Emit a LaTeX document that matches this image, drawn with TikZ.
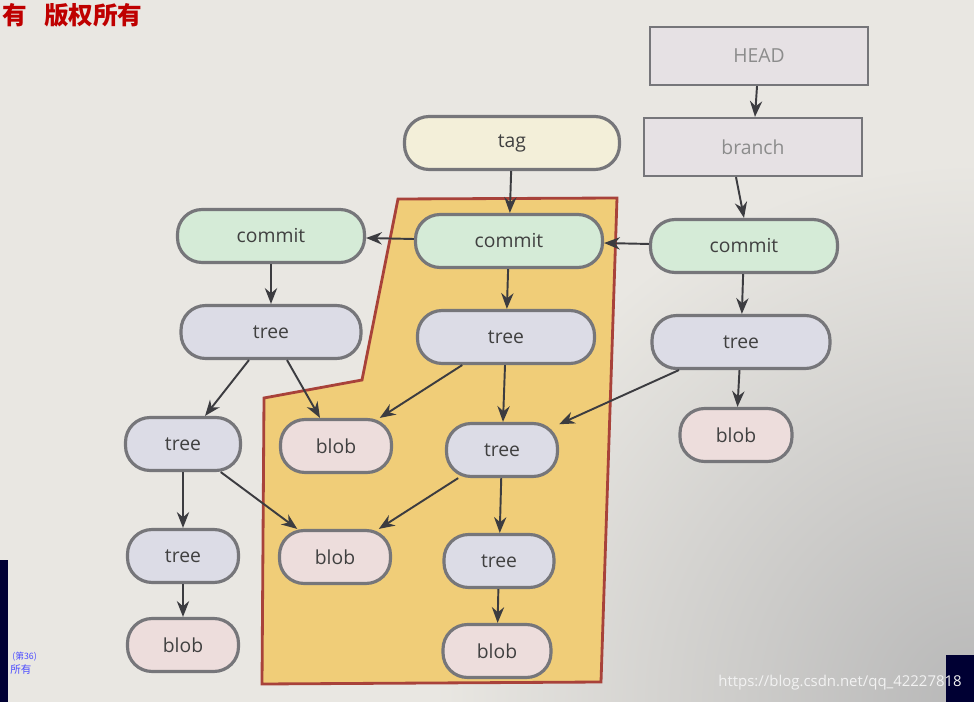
\documentclass[tikz,border=0pt]{standalone}
\usepackage{fontspec}
\setmainfont{Open Sans}
\newfontfamily\cjk{Noto Sans CJK SC}
\usetikzlibrary{arrows.meta}

\definecolor{paper}{HTML}{E9E7E2}
\definecolor{edgegray}{HTML}{76767A}
\definecolor{arrowgray}{HTML}{3C3C40}
\definecolor{refgray}{HTML}{E6E1E4}
\definecolor{tagfill}{HTML}{F3EFD9}
\definecolor{commitfill}{HTML}{D5EBD7}
\definecolor{treefill}{HTML}{DCDCE6}
\definecolor{blobfill}{HTML}{EDDDDC}
\definecolor{areafill}{HTML}{F0CD78}
\definecolor{areaedge}{HTML}{A8423A}

\begin{document}
\begin{tikzpicture}
    %defining some styles
    [
        x=0.02cm, y=-0.02cm,
        every node/.style={font=\fontsize{11}{13}\selectfont, text=black!75},
        refbox/.style={rectangle, draw=edgegray, fill=refgray, line width=1.3pt,
            minimum width=4.36cm, minimum height=1.16cm, text=black!45},
        pill/.style={rectangle, rounded corners=14pt, draw=edgegray, line width=1.8pt,
            minimum height=1.06cm},
        bigpill/.style={pill, minimum width=3.6cm},
        smallpill/.style={pill, minimum width=2.22cm},
        tagnode/.style={bigpill, fill=tagfill, minimum width=4.3cm},
        commitnode/.style={bigpill, fill=commitfill, minimum width=3.74cm},
        treenode/.style={bigpill, fill=treefill},
        smalltree/.style={smallpill, fill=treefill},
        blobnode/.style={smallpill, fill=blobfill},
        link/.style={-{Stealth[length=9pt, width=7pt]}, draw=arrowgray, line width=1.1pt},
    ]
    \useasboundingbox (0,0) rectangle (974,702);
    \fill[paper] (0,0) rectangle (974,702);
    \shade[inner color=black!28, outer color=paper] (974,702) circle (540);
    \fill[black!80!blue] (0,560) rectangle (8,702);
    \fill[black!80!blue] (946,655) rectangle (974,702);

    % the shaded area
    \draw[fill=areafill, draw=areaedge, line width=1.6pt]
        (398,199) -- (617,198) -- (601,682) -- (262,684) -- (264,398) -- (362,380) -- cycle;

    % refs
    \node (head) at (759,56) [refbox] {HEAD};
    \node (branch) at (753,147) [refbox] {branch};
    \node (tag) at (512,143) [tagnode] {tag};

    % commits
    \node (commitl) at (271,236) [commitnode] {commit};
    \node (commitm) at (509,241) [commitnode] {commit};
    \node (commitr) at (744,246) [commitnode] {commit};

    % trees and blobs
    \node (treel) at (271,332) [treenode] {tree};
    \node (treem) at (506,337) [treenode, minimum width=3.54cm] {tree};
    \node (treer) at (741,342) [treenode, minimum width=3.56cm] {tree};
    \node (treela) at (183,444) [smalltree, minimum width=2.3cm] {tree};
    \node (blobma) at (336,446) [blobnode] {blob};
    \node (treema) at (502,450) [smalltree] {tree};
    \node (blobr) at (736,435) [blobnode, minimum width=2.24cm] {blob};
    \node (treelb) at (183,556) [smalltree] {tree};
    \node (blobmb) at (335,557) [blobnode] {blob};
    \node (treemb) at (499,561) [smalltree, minimum width=2.2cm] {tree};
    \node (blobl) at (183,645) [blobnode] {blob};
    \node (blobmc) at (497,651) [blobnode, minimum width=2.16cm] {blob};

    % connectors
    \draw[link] (head) -- (branch);
    \draw[link] (branch.south -| commitr.north) ++(-8,0) -- (commitr.north);
    \draw[link] (tag) -- (commitm);
    \draw[link] (commitr) -- (commitm);
    \draw[link] (commitm) -- (commitl);
    \draw[link] (commitl) -- (treel);
    \draw[link] (commitm) -- (treem);
    \draw[link] (commitr) -- (treer);
    \draw[link] (treel) -- (treela);
    \draw[link] (treel) -- (blobma);
    \draw[link] (treem) -- (blobma);
    \draw[link] (treem) -- (treema);
    \draw[link] (treer) -- (treema);
    \draw[link] (treer) -- (blobr);
    \draw[link] (treela) -- (treelb);
    \draw[link] (treela) -- (blobmb);
    \draw[link] (treema) -- (blobmb);
    \draw[link] (treema) -- (treemb);
    \draw[link] (treelb) -- (blobl);
    \draw[link] (treemb) -- (blobmc);

    % page texts
    \node (mark) at (2,3) [anchor=north west, inner sep=0pt, text=red!75!black,
        font=\cjk\bfseries\fontsize{14}{16}\selectfont] {有\hspace{0.7em}版权所有};
    \node (pagenum) at (12,657) [anchor=west, inner sep=0pt, text=blue!70,
        font=\cjk\fontsize{5}{6}\selectfont] {(第36)};
    \node (pageown) at (10,670) [anchor=west, inner sep=0pt, text=blue!70,
        font=\cjk\fontsize{6}{7}\selectfont] {所有};
    \node (url) at (962,683) [anchor=east, inner sep=0pt, text=white!95!black,
        font=\fontsize{8.5}{10}\selectfont] {https://blog.csdn.net/qq\_42227818};
\end{tikzpicture}
\end{document}
